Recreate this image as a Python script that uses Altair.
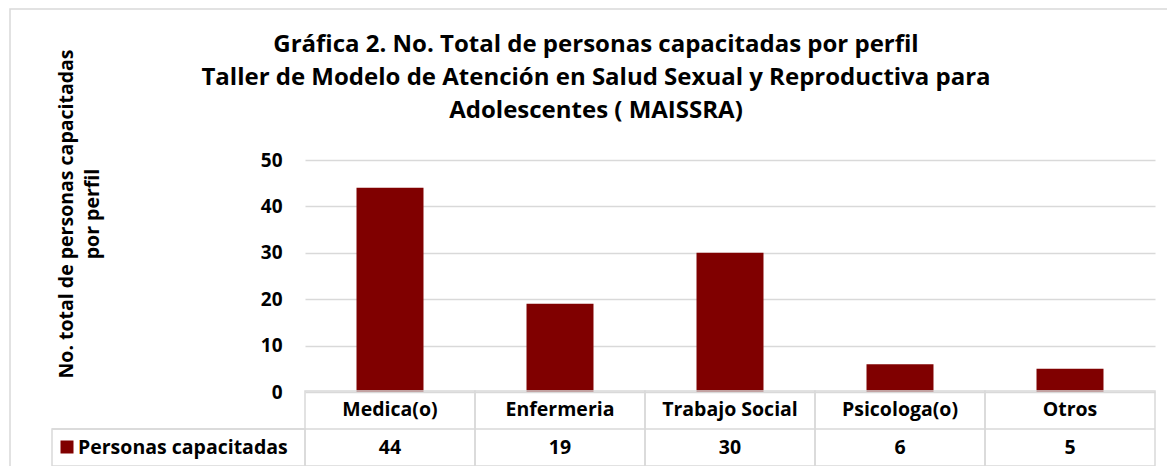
import altair as alt
import pandas as pd

categories = ["Medica(o)", "Enfermeria", "Trabajo Social", "Psicologa(o)", "Otros"]
values = [44, 19, 30, 6, 5]
series_name = "Personas capacitadas"
title_lines = [
    "Gráfica 2.  No. Total de personas capacitadas por perfil",
    "Taller de Modelo de Atención en Salud Sexual y Reproductiva para",
    "Adolescentes ( MAISSRA)",
]
y_title_lines = ["No. total de personas capacitadas", "por perfil"]
y_ticks = [0, 10, 20, 30, 40, 50]

BAR = "#800000"
GRID = "#d9d9d9"
FONT = "Open Sans"
W, H = 850, 232

df = pd.DataFrame({"cat": categories, "val": values})
one = pd.DataFrame({"name": [series_name]})
tdf = pd.DataFrame({"t": [title_lines]})
ydf = pd.DataFrame({"t": [y_title_lines]})

xenc = alt.X("cat:N", sort=categories, axis=None,
             scale=alt.Scale(paddingInner=0, paddingOuter=0))

base = alt.Chart(df)

bars = base.mark_bar(color=BAR, width=alt.RelativeBandSize(0.394)).encode(
    x=xenc,
    y=alt.Y("val:Q", scale=alt.Scale(domain=[0, 50], nice=False),
            axis=alt.Axis(values=y_ticks, grid=True, gridColor=GRID, gridWidth=1.3,
                          domain=False, ticks=False, labelFont=FONT, labelFontSize=19,
                          labelFontWeight="bold", labelColor="black", labelPadding=23,
                          title=None)),
)

cells = base.mark_rect(fillOpacity=0, stroke=GRID, strokeWidth=1.5).encode(
    x=xenc, y=alt.value(231), y2=alt.value(306)
)
hline = alt.Chart(one).mark_rule(color=GRID, strokeWidth=1.5).encode(
    x=alt.value(-253), x2=alt.value(W), y=alt.value(269)
)
legend_cell = alt.Chart(one).mark_rect(fillOpacity=0, stroke=GRID, strokeWidth=1.5).encode(
    x=alt.value(-253), x2=alt.value(0), y=alt.value(269), y2=alt.value(306)
)
legend_sq = alt.Chart(one).mark_square(color=BAR, size=169, opacity=1, filled=True).encode(
    x=alt.value(-238), y=alt.value(287)
)
legend_txt = alt.Chart(one).mark_text(font=FONT, fontSize=19.5, fontWeight="bold", align="left",
                                      baseline="middle", color="black").encode(
    x=alt.value(-227), y=alt.value(288), text="name:N"
)
cat_txt = base.mark_text(font=FONT, fontSize=19.5, fontWeight="bold", baseline="middle",
                         color="black").encode(
    x=xenc, y=alt.value(250), text="cat:N"
)
val_txt = base.mark_text(font=FONT, fontSize=19.5, fontWeight="bold", baseline="middle",
                         color="black").encode(
    x=xenc, y=alt.value(288), text="val:Q"
)
title_txt = alt.Chart(tdf).mark_text(font=FONT, fontSize=24, fontWeight="bold", align="center",
                                     baseline="alphabetic", lineHeight=33, color="black").encode(
    x=alt.value(291), y=alt.value(-108), text="t"
)
ytitle_txt = alt.Chart(ydf).mark_text(font=FONT, fontSize=19.5, fontWeight="bold", align="center",
                                      baseline="alphabetic", lineHeight=26, angle=270,
                                      color="black").encode(
    x=alt.value(-232), y=alt.value(54), text="t"
)
frame = alt.Chart(one).mark_rect(fillOpacity=0, stroke=GRID, strokeWidth=1.5).encode(
    x=alt.value(-295), x2=alt.value(1000), y=alt.value(-151), y2=alt.value(500)
)

chart = alt.layer(
    frame, bars, cells, hline, legend_cell, legend_sq, legend_txt, cat_txt, val_txt,
    title_txt, ytitle_txt
).properties(
    width=W, height=H,
    padding={"left": 297, "top": 152, "right": 12, "bottom": 74},
    autosize=alt.AutoSizeParams(type="none"),
    background="white",
).configure_view(stroke=None)

chart.save("out.html", embed_options={"renderer": "svg", "actions": False})
